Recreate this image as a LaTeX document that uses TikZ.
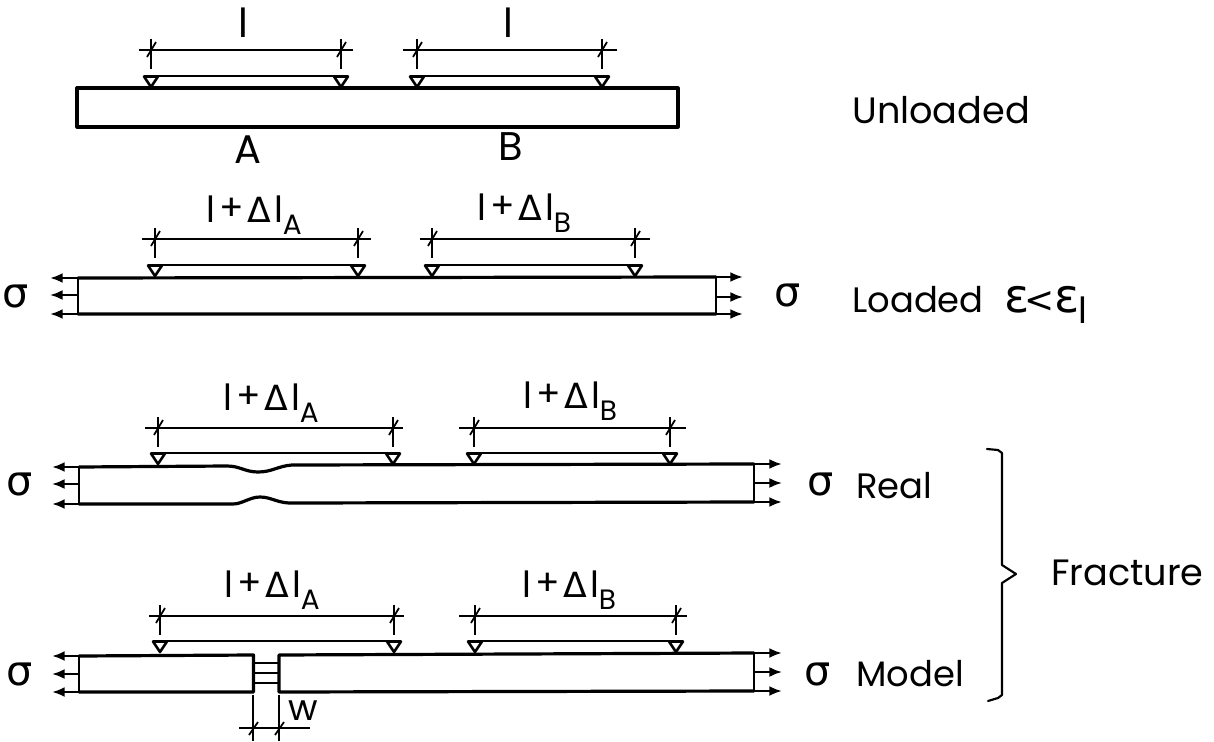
\documentclass[tikz,border=0pt]{standalone}
\usepackage{fontspec}
\setmainfont{Poppins}
\newfontfamily\greekf{DejaVu Sans}
\usetikzlibrary{arrows.meta}
\newcommand{\fsz}[1]{\fontsize{#1}{#1}\selectfont}
\tikzset{
  lbl/.style={inner sep=0pt,anchor=base west,font=\fsz{26.5}},
  siglbl/.style={inner sep=0pt,font=\fsz{31}},
  bar/.style={line width=2.4pt,line cap=round,line join=round},
  rod/.style={line width=2.2pt,line cap=round,line join=round},
  thin line/.style={line width=0.9pt},
  slash/.style={line width=1.3pt},
  pull/.style={line width=1.9pt,-{Latex[length=9.5pt,width=7.5pt]}},
  pullmid/.style={line width=1.6pt,-{Latex[length=9.5pt,width=7.5pt]}},
}
\newcommand{\gaugemark}[3]{% x, rod y, dim y
  \draw[thin line] (#1,#3-11) -- (#1,#3+19);
  \draw[slash] (#1-4,#3+7) -- (#1+5,#3-8);
  \draw[rod,line width=1.9pt] (#1-7,#2+0.5) -- (#1+7,#2+0.5) -- (#1,#2+11) -- cycle;
}
\newcommand{\gauge}[6]{% x1,x2,rod y,dim y,dim x1,dim x2
  \draw[thin line] (#5,#4) -- (#6,#4);
  \draw[rod] (#1,#3) -- (#2,#3);
  \gaugemark{#1}{#3}{#4}
  \gaugemark{#2}{#3}{#4}
}
\newcommand{\pulls}[5]{% x bar, tip x, y top, y mid, y bottom
  \draw[pull] (#1,#3) -- (#2,#3);
  \draw[pullmid] (#1,#4) -- (#2,#4);
  \draw[pull] (#1,#5) -- (#2,#5);
  \draw[line width=1.6pt] (#1,#3) -- (#1,#5);
}
\newcommand{\sig}{{\greekf σ}}
\newcommand{\lda}[1]{{\fsz{27}l\kern3pt\raisebox{1pt}{\fsz{27}+}\kern3pt{\greekf\fsz{26}Δ}\kern2.5pt l\kern-0.5pt\raisebox{-9pt}{\fsz{21}#1}}}
\begin{document}
\begin{tikzpicture}[x=0.75pt,y=-0.75pt]
\useasboundingbox (0,0) rectangle (1214,742);
% --- row 1
\draw[bar] (77,88) rectangle (678,127);
\gauge{151}{341}{76}{50}{139}{353}
\gauge{417}{602}{76}{50}{403}{617}
\node[lbl,font=\fsz{30}] (l1) at (238,38) {l};
\node[lbl,font=\fsz{30}] (l2) at (503,38) {l};
\node[lbl,font=\fsz{30}] (A) at (234,163) {A};
\node[lbl,font=\fsz{30}] (B) at (498,161) {B};
\node[lbl,font=\fsz{27.5}] (unl) at (852,123) {Unloaded};
% --- row 2
\draw[bar] (78,278) -- (716,277) (78,314) -- (716,314);
\pulls{78}{50}{278}{295}{314}
\pulls{716}{743}{277}{297}{314}
\gauge{155}{358}{265}{239}{142}{371}
\gauge{432}{635}{265}{239}{420}{650}
\node[lbl] (t2a) at (206,222) {\lda{A}};
\node[lbl] (t2b) at (477,220) {\lda{B}};
\node[siglbl] (s2l) at (16,296) {\sig};
\node[siglbl] (s2r) at (788,295) {\sig};
\node[lbl] (t2) at (852,312) {Loaded};
\node[lbl,font=\greekf\fsz{35}] (e1) at (1004,312) {ε};
\node[lbl,font=\greekf\fsz{27}] (lt) at (1024,312) {<};
\node[lbl,font=\greekf\fsz{35}] (e2) at (1054,312) {ε};
\node[lbl,font=\fsz{27}] (e3) at (1078,323) {l};
% --- row 3
\draw[bar] (79,467) -- (227,466) .. controls (240,466) and (245,472) .. (258,472) .. controls (272,472) and (278,466) .. (292,465) -- (754,464);
\draw[bar] (79,504) -- (233,504) .. controls (242,504) and (250,497) .. (260,497) .. controls (272,497) and (278,504) .. (295,503) -- (754,502);
\pulls{79}{52}{467}{484}{504}
\pulls{754}{782}{464}{483}{502}
\gauge{158}{393}{453}{428}{145}{403}
\gauge{474}{670}{453}{428}{459}{686}
\node[lbl] (t3a) at (223,410) {\lda{A}};
\node[lbl] (t3b) at (523,408) {\lda{B}};
\node[siglbl] (s3l) at (20,484) {\sig};
\node[siglbl] (s3r) at (821,484) {\sig};
\node[lbl] (t3) at (856,498) {Real};
% --- row 4
\draw[bar] (79,656) -- (253.5,655) -- (253.5,692) -- (79,692);
\draw[bar] (754,653) -- (279,655) -- (279,692) -- (754,691);
\draw[line width=1.5pt] (254,663) -- (279,663) (254,673) -- (279,673) (254,683) -- (279,683);
\pulls{79}{52}{656}{674}{692}
\pulls{754}{782}{653}{672}{691}
\gauge{160}{394}{641}{616}{149}{404}
\gauge{475}{676}{641}{616}{459}{687}
\node[lbl] (t4a) at (224,597) {\lda{A}};
\node[lbl] (t4b) at (522,597) {\lda{B}};
\node[siglbl] (s4l) at (20,674) {\sig};
\node[siglbl] (s4r) at (818,674) {\sig};
\node[lbl] (t4) at (856,686) {Model};
\node[lbl,font=\fsz{27}] (w) at (288,720) {w};
% w dimension
\draw[thin line] (253,695) -- (253,741) (279,695) -- (279,741) (239,728) -- (310,728);
\draw[slash] (249,735) -- (258,722) (275,735) -- (284,722);
% --- bracket
\draw[line width=1.6pt,line cap=round,line join=round] (987,449) -- (998,450) -- (1002,453) -- (1002,565) -- (1016,574) -- (1002,583) -- (1002,695) -- (998,698) -- (988,701);
\node[lbl,font=\fsz{27.5}] (fr) at (1051,585) {Fracture};
\end{tikzpicture}
\end{document}
